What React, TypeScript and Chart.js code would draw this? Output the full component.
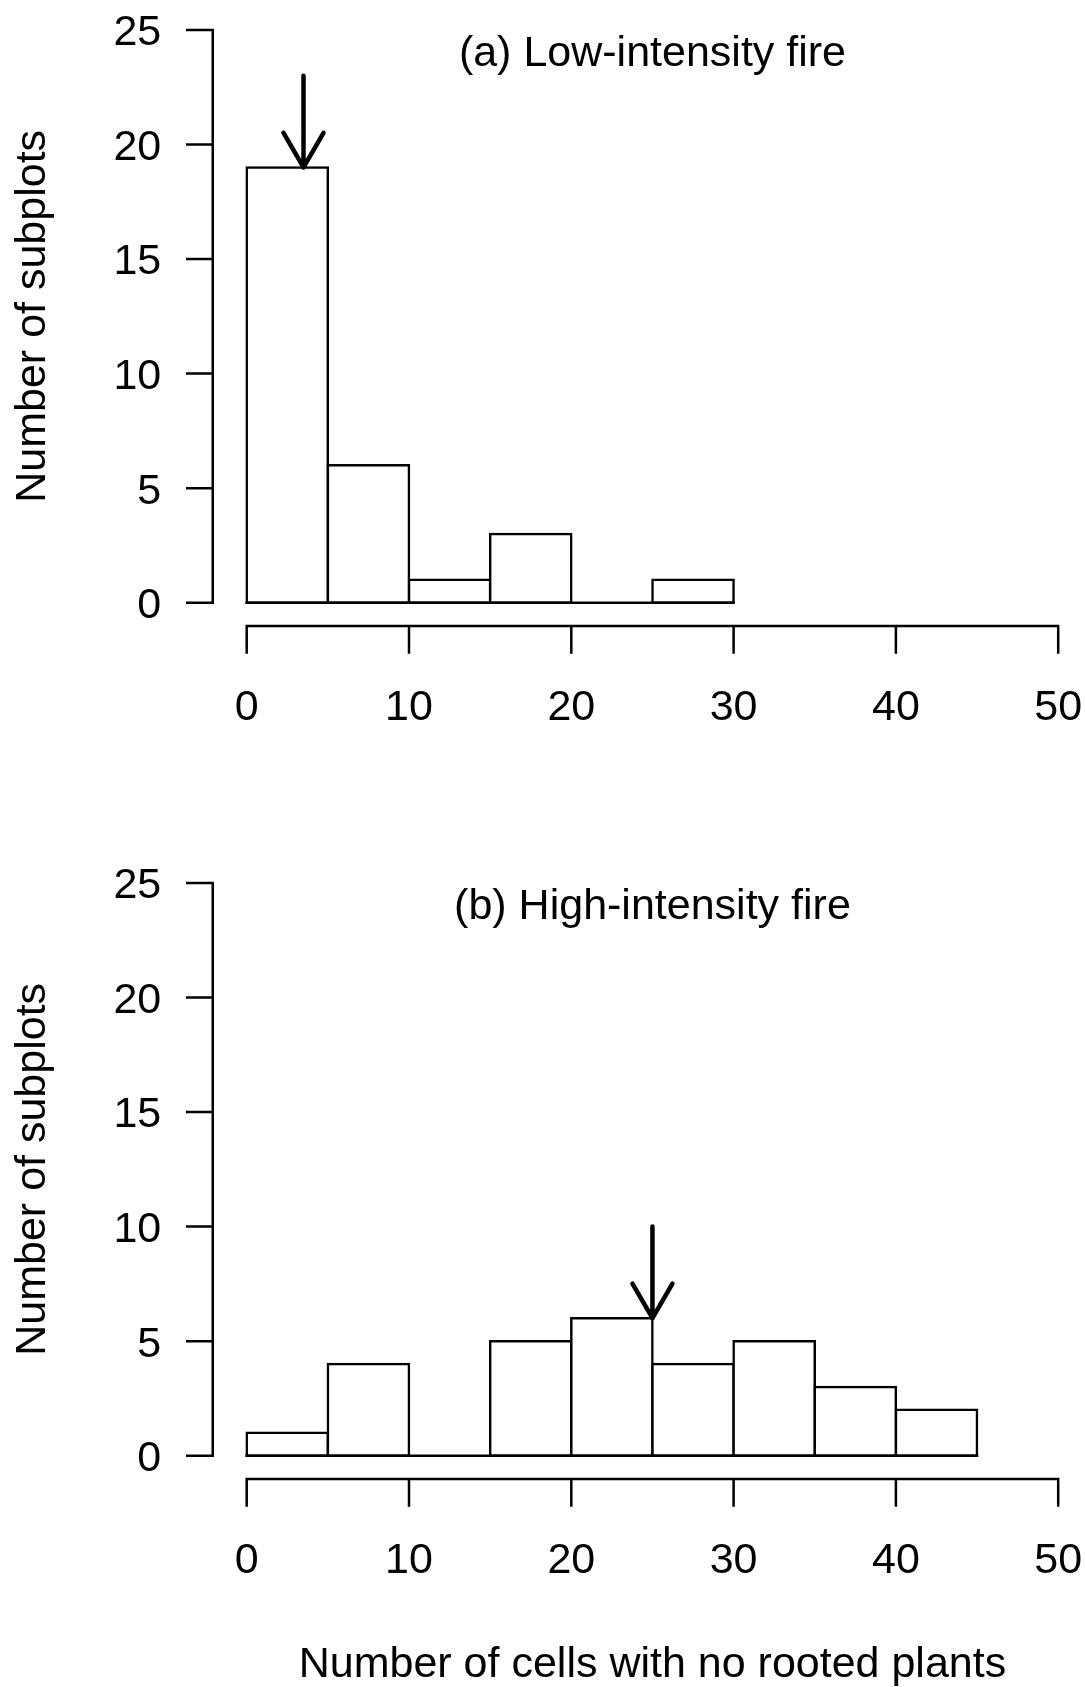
import React, { useEffect, useRef } from "react";
import { Chart, registerables } from "chart.js";

Chart.register(...registerables);

// ---- data ----
const lowBinMids = [2.5, 7.5, 12.5, 17.5, 22.5, 27.5];
const lowCounts = [19, 6, 1, 3, 0, 1];
const highBinMids = [2.5, 7.5, 12.5, 17.5, 22.5, 27.5, 32.5, 37.5, 42.5];
const highCounts = [1, 4, 0, 5, 6, 4, 5, 3, 2];
const binWidth = 5;
const xTicks = [0, 10, 20, 30, 40, 50];
const yTicks = [0, 5, 10, 15, 20, 25];
const panelTitles = ["(a) Low-intensity fire", "(b) High-intensity fire"];
const arrowX = [3.5, 25];
const arrowFrom = [23, 10];
const arrowTo = [19, 6];
const yTitle = "Number of subplots";
const xTitle = "Number of cells with no rooted plants";

// ---- styles ----
const FONT = '43px "Liberation Sans", Arial, Helvetica, sans-serif';
const INK = "#000";
const LW = 2.5;
const CANVAS_W = 1100;

function makePlugin(idx: number, showXTitle: boolean) {
  const mids = idx === 0 ? lowBinMids : highBinMids;
  return {
    id: "rHist" + idx,
    afterDatasetsDraw(chart: any) {
      const { ctx, scales } = chart;
      const x = scales.x;
      const y = scales.y;
      const y0 = y.getPixelForValue(0);
      const xl = x.getPixelForValue(mids[0] - binWidth / 2);
      const xr = x.getPixelForValue(mids[mids.length - 1] + binWidth / 2);
      ctx.save();
      ctx.strokeStyle = INK;
      ctx.lineWidth = LW;
      ctx.beginPath();
      ctx.moveTo(xl - LW / 2, y0);
      ctx.lineTo(xr + LW / 2, y0);
      ctx.stroke();
      ctx.restore();
    },
    afterDraw(chart: any) {
      const { ctx, scales, chartArea } = chart;
      const x = scales.x;
      const y = scales.y;
      ctx.save();
      ctx.strokeStyle = INK;
      ctx.fillStyle = INK;
      ctx.lineWidth = LW;
      ctx.lineCap = "square";
      ctx.font = FONT;

      // y axis
      const ax = chartArea.left - 1.5;
      const tickLen = 25.5;
      ctx.beginPath();
      ctx.moveTo(ax, y.getPixelForValue(yTicks[0]));
      ctx.lineTo(ax, y.getPixelForValue(yTicks[yTicks.length - 1]));
      y.ticks.forEach((t: any) => {
        const py = y.getPixelForValue(t.value);
        ctx.moveTo(ax - tickLen, py);
        ctx.lineTo(ax, py);
      });
      ctx.stroke();
      ctx.textAlign = "right";
      ctx.textBaseline = "alphabetic";
      y.ticks.forEach((t: any) => {
        const py = y.getPixelForValue(t.value);
        ctx.fillText(String(t.value), ax - 51.5, py + 15.4);
      });

      // x axis
      const ay = chartArea.bottom + 0.4;
      ctx.beginPath();
      ctx.moveTo(x.getPixelForValue(xTicks[0]), ay);
      ctx.lineTo(x.getPixelForValue(xTicks[xTicks.length - 1]), ay);
      x.ticks.forEach((t: any) => {
        const px = x.getPixelForValue(t.value);
        ctx.moveTo(px, ay);
        ctx.lineTo(px, ay + 26.5);
      });
      ctx.stroke();
      ctx.textAlign = "center";
      x.ticks.forEach((t: any) => {
        const px = x.getPixelForValue(t.value);
        ctx.fillText(String(t.value), px, ay + 94.4);
      });

      // panel title
      const cx = x.getPixelForValue(25);
      ctx.fillText(panelTitles[idx], cx, 66);

      // y title
      const cy = (y.getPixelForValue(yTicks[0]) + y.getPixelForValue(yTicks[yTicks.length - 1])) / 2;
      ctx.save();
      ctx.translate(45, cy);
      ctx.rotate(-Math.PI / 2);
      ctx.fillText(yTitle, 0, 0);
      ctx.restore();

      // x title
      if (showXTitle) {
        ctx.fillText(xTitle, cx, 824);
      }

      // arrow
      const axp = x.getPixelForValue(arrowX[idx]);
      const pTop = y.getPixelForValue(arrowFrom[idx]);
      const pTip = y.getPixelForValue(arrowTo[idx]);
      const headLen = 40;
      const ang = Math.PI / 6;
      ctx.lineWidth = 4.5;
      ctx.lineCap = "round";
      ctx.lineJoin = "round";
      ctx.beginPath();
      ctx.moveTo(axp, pTop);
      ctx.lineTo(axp, pTip);
      ctx.moveTo(axp - headLen * Math.sin(ang), pTip - headLen * Math.cos(ang));
      ctx.lineTo(axp, pTip);
      ctx.lineTo(axp + headLen * Math.sin(ang), pTip - headLen * Math.cos(ang));
      ctx.stroke();

      ctx.restore();
    },
  };
}

function Panel({ idx, top, height }: { idx: number; top: number; height: number }) {
  const ref = useRef<HTMLCanvasElement>(null);
  useEffect(() => {
    const mids = idx === 0 ? lowBinMids : highBinMids;
    const counts = idx === 0 ? lowCounts : highCounts;
    const chart = new Chart(ref.current as HTMLCanvasElement, {
      type: "bar",
      data: {
        datasets: [
          {
            data: mids.map((m, i) => ({ x: m, y: counts[i] })),
            backgroundColor: "#fff",
            borderColor: INK,
            borderWidth: LW,
            borderSkipped: false,
            inflateAmount: LW / 2,
            barPercentage: 1,
            categoryPercentage: 1,
          } as any,
        ],
      },
      options: {
        animation: false,
        responsive: false,
        maintainAspectRatio: false,
        events: [],
        layout: {
          padding: {
            left: 214.24,
            top: 7.08,
            right: CANVAS_W - 1090.66,
            bottom: height - 625.57,
          },
        },
        plugins: {
          legend: { display: false },
          tooltip: { enabled: false },
          title: { display: false },
        },
        scales: {
          x: {
            type: "linear",
            min: -2,
            max: 52,
            offset: false,
            display: false,
            grid: { offset: false },
            afterBuildTicks: (s: any) => {
              s.ticks = xTicks.map((v) => ({ value: v }));
            },
          },
          y: {
            type: "linear",
            min: -1,
            max: 26,
            display: false,
            afterBuildTicks: (s: any) => {
              s.ticks = yTicks.map((v) => ({ value: v }));
            },
          },
        },
      } as any,
      plugins: [makePlugin(idx, idx === 1)],
    });
    return () => chart.destroy();
  }, [idx, height]);
  return (
    <canvas
      ref={ref}
      width={CANVAS_W}
      height={height}
      style={{ position: "absolute", left: 0, top, width: CANVAS_W, height, display: "block" }}
    />
  );
}

export default function App() {
  return (
    <div
      style={{
        position: "absolute",
        left: 0,
        top: 0,
        width: 1085,
        height: 1687,
        overflow: "hidden",
        background: "#fff",
      }}
    >
      <Panel idx={0} top={0} height={853} />
      <Panel idx={1} top={853} height={834} />
    </div>
  );
}
